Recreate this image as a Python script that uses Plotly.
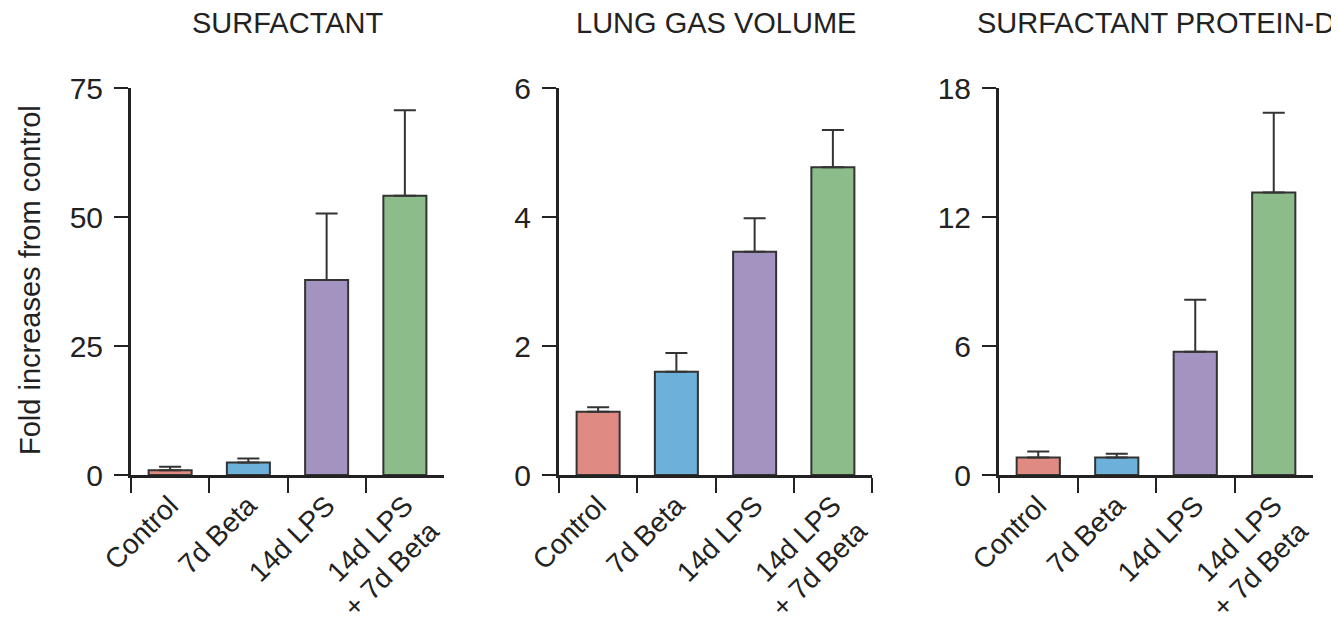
import plotly.graph_objects as go

categories = ["Control", "7d Beta", "14d LPS", "14d LPS<br>+ 7d Beta"]
colors = ["#E08A84", "#6DB1DA", "#A393C0", "#8BBC8A"]

titles = ["SURFACTANT", "LUNG GAS VOLUME", "SURFACTANT PROTEIN-D"]

surfactant_mean = [0.9, 2.4, 37.8, 54.1]
surfactant_err = [0.7, 0.8, 12.9, 16.6]

lung_gas_mean = [0.98, 1.60, 3.46, 4.77]
lung_gas_err = [0.07, 0.29, 0.52, 0.58]

spd_mean = [0.81, 0.81, 5.73, 13.14]
spd_err = [0.28, 0.18, 2.42, 3.71]

y_ranges = [[0, 75], [0, 6], [0, 18]]
y_ticks = [[0, 25, 50, 75], [0, 2, 4, 6], [0, 6, 12, 18]]

means = [surfactant_mean, lung_gas_mean, spd_mean]
errs = [surfactant_err, lung_gas_err, spd_err]

OFF = 8  # page body margin
W, H = 1339 - OFF, 626 - OFF
x_px = [(131, 444), (559, 872), (999, 1313)]
y_px = (88, 475)

FONT = "Liberation Sans, Arial, Helvetica, sans-serif"
DARK = "#222222"

def fx(px):
    return (px - OFF) / W

def fy(py):
    return 1 - (py - OFF) / H

fig = go.Figure()
layout = dict(
    width=W, height=H,
    margin=dict(l=0, r=0, t=0, b=0),
    template="none",
    plot_bgcolor="white", paper_bgcolor="white",
    showlegend=False,
    bargap=0.45,
    font=dict(family=FONT, size=29, color=DARK),
)

annotations = []
for i in range(3):
    sfx = "" if i == 0 else str(i + 1)
    fig.add_trace(go.Bar(
        x=categories, y=means[i],
        marker=dict(color=colors, line=dict(color="#333333", width=2)),
        error_y=dict(type="data", symmetric=False, array=errs[i],
                     arrayminus=[0] * 4, color="#333333", thickness=2, width=11),
        xaxis="x" + sfx, yaxis="y" + sfx,
    ))
    layout["xaxis" + sfx] = dict(
        domain=[fx(x_px[i][0]), fx(x_px[i][1])],
        anchor="y" + sfx,
        type="category",
        tickson="boundaries",
        ticks="outside", ticklen=15, tickwidth=2, tickcolor=DARK,
        showline=True, linewidth=3, linecolor=DARK,
        showgrid=False, zeroline=False,
        tickangle=-45,
        tickfont=dict(family=FONT, size=28, color=DARK),
        automargin=False,
        range=[-0.5, 3.5],
    )
    layout["yaxis" + sfx] = dict(
        domain=[fy(y_px[1]), fy(y_px[0])],
        anchor="x" + sfx,
        range=y_ranges[i],
        tickvals=y_ticks[i],
        ticks="outside", ticklen=14, tickwidth=2, tickcolor=DARK,
        showline=True, linewidth=3, linecolor=DARK,
        showgrid=False, zeroline=False,
        tickfont=dict(family=FONT, size=30, color=DARK),
        ticklabelstandoff=5,
        automargin=False,
    )
    annotations.append(dict(
        text=titles[i], xref="paper", yref="paper",
        x=fx((x_px[i][0] + x_px[i][1]) / 2), y=fy(23),
        xanchor="center", yanchor="middle", showarrow=False,
        font=dict(family=FONT, size=29, color=DARK),
    ))

annotations.append(dict(
    text="Fold increases from control", xref="paper", yref="paper",
    x=fx(30), y=fy(280), textangle=-90,
    xanchor="center", yanchor="middle", showarrow=False,
    font=dict(family=FONT, size=29, color=DARK),
))
layout["annotations"] = annotations
fig.update_layout(**layout)
fig.write_html("out.html")
